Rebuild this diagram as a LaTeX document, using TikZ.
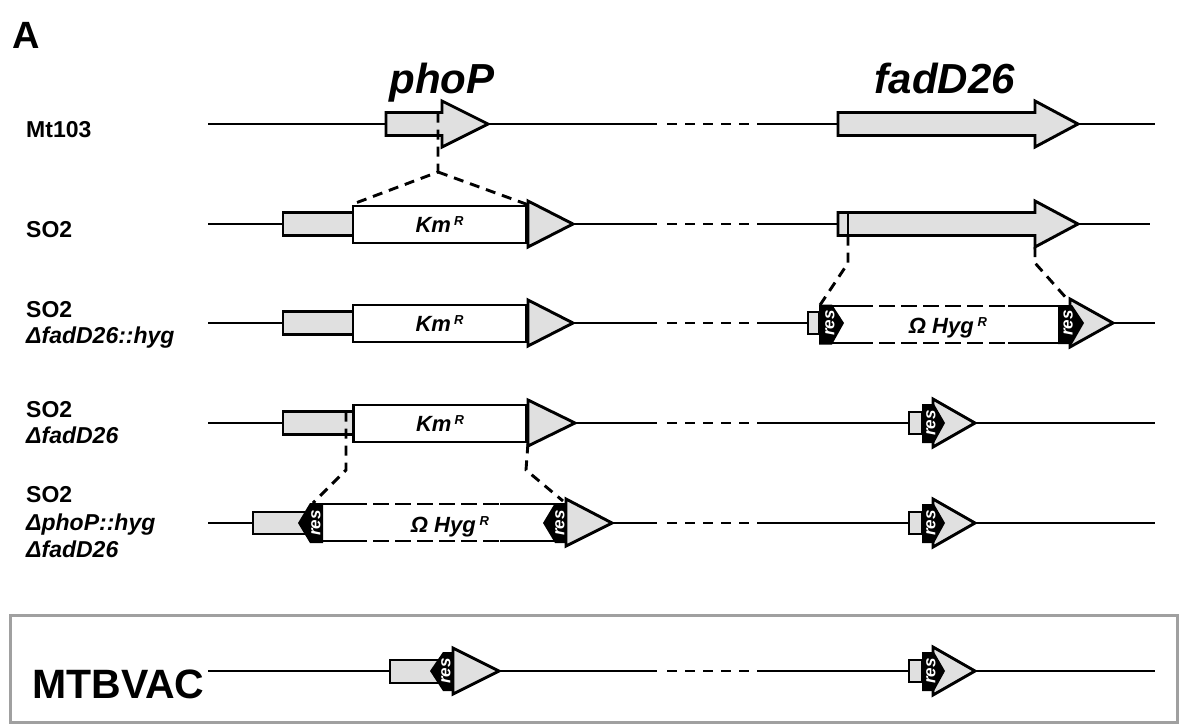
\documentclass[tikz,border=0pt]{standalone}
\usepackage{fontspec}
\setmainfont{Liberation Sans}
\usetikzlibrary{positioning}
\definecolor{genegrey}{RGB}{224,224,224}
\definecolor{framegrey}{RGB}{160,160,160}
\newcommand\kmr{Km\kern3pt\raisebox{7pt}{\fontsize{13}{13}\selectfont R}}
\newcommand\hygr{Ω Hyg\kern4pt\raisebox{7pt}{\fontsize{13}{13}\selectfont R}}

\begin{document}
\begin{tikzpicture}[x=1pt, y=-1pt,
  gline/.style={line width=2.9pt},
  gapline/.style={line width=2.9pt, dash pattern=on 10pt off 8pt},
  guide/.style={line width=2.9pt, dash pattern=on 10pt off 7pt},
  hygedge/.style={line width=2.9pt, dash pattern=on 16pt off 6pt},
  genebox/.style={draw, line width=2.9pt, fill=genegrey, line join=miter},
  cassette/.style={draw, line width=2.9pt, fill=white, inner sep=0pt, font=\fontsize{22}{26}\selectfont\bfseries\itshape},
  resmark/.style={fill=black},
  restext/.style={text=white, rotate=90, inner sep=0pt, font=\fontsize{17}{17}\selectfont\bfseries\itshape},
  marker/.style={anchor=base, inner sep=0pt, font=\fontsize{22}{26}\selectfont\bfseries\itshape},
  strain/.style={anchor=base west, inner sep=0pt, font=\fontsize{23}{26}\selectfont\bfseries},
  strainit/.style={anchor=base west, inner sep=0pt, font=\fontsize{23}{26}\selectfont\bfseries\itshape},
  genetitle/.style={anchor=base, inner sep=0pt, font=\fontsize{42}{48}\selectfont\bfseries\itshape}]

\useasboundingbox (0,0) rectangle (1187,726);

% titles
\node[anchor=base west, inner sep=0pt, font=\fontsize{38}{44}\selectfont\bfseries] (panel) at (12,48) {A};
\node[genetitle] (phoPtitle) at (442,93) {phoP};
\node[genetitle] (fadtitle) at (945,93) {fadD26};

% strain names
\node[strain] (mtLabel) at (26,137) {Mt103};
\node[strain] (soLabel) at (26,237) {SO2};
\node[strain] (soHygA) at (26,317) {SO2};
\node[strainit] (soHygB) at (26,343) {ΔfadD26::hyg};
\node[strain] (soDelA) at (26,417) {SO2};
\node[strainit] (soDelB) at (26,443) {ΔfadD26};
\node[strain] (dblA) at (26,502) {SO2};
\node[strainit] (dblB) at (26,530) {ΔphoP::hyg};
\node[strainit] (dblC) at (26,557) {ΔfadD26};
\node[anchor=base west, inner sep=0pt, font=\fontsize{41}{46}\selectfont\bfseries] (vacLabel) at (32,698) {MTBVAC};

% chromosome lines
\draw[gline] (208,124) -- (657,124);
\draw[gapline] (667,124) -- (760,124);
\draw[gline] (760,124) -- (1155,124);
\draw[gline] (208,224) -- (657,224);
\draw[gapline] (667,224) -- (760,224);
\draw[gline] (760,224) -- (1150,224);
\draw[gline] (208,323) -- (657,323);
\draw[gapline] (667,323) -- (760,323);
\draw[gline] (760,323) -- (1155,323);
\draw[gline] (208,423) -- (657,423);
\draw[gapline] (667,423) -- (760,423);
\draw[gline] (760,423) -- (1155,423);
\draw[gline] (208,523) -- (657,523);
\draw[gapline] (667,523) -- (760,523);
\draw[gline] (760,523) -- (1155,523);
\draw[gline] (208,671) -- (657,671);
\draw[gapline] (667,671) -- (760,671);
\draw[gline] (760,671) -- (1155,671);

% Mt103
\draw[genebox] (386,112.5) -- (442,112.5) -- (442,101) -- (488,124) -- (442,147) -- (442,135.5) -- (386,135.5) -- cycle;
\draw[genebox] (838,112.5) -- (1035,112.5) -- (1035,101) -- (1078,124) -- (1035,147) -- (1035,135.5) -- (838,135.5) -- cycle;

% SO2
\draw[genebox] (283,212.5) rectangle (353,235.5);
\node[cassette, minimum width=173pt, minimum height=37pt] (kmA) at (439.5,224.5) {\kmr};
\draw[genebox] (528,201) -- (573,224) -- (528,247) -- cycle;
\draw[genebox] (838,212.5) -- (1035,212.5) -- (1035,201) -- (1078,224) -- (1035,247) -- (1035,235.5) -- (838,235.5) -- cycle;
\draw[gline] (848,212.5) -- (848,235.5);
\draw[guide] (438,112.5) -- (438,172) -- (kmA.north west);
\draw[guide] (438,172) -- (kmA.north east);

% SO2 fadD26::hyg
\draw[genebox] (283,311.5) rectangle (353,334.5);
\node[cassette, minimum width=173pt, minimum height=37pt] (kmB) at (439.5,323.5) {\kmr};
\draw[genebox] (528,300) -- (573,323) -- (528,346) -- cycle;
\draw[genebox] (808,312) rectangle (819,334);
\fill[white] (819,306) rectangle (1070,343);
\draw[gline] (819,306) -- (873,306);
\draw[hygedge] (879,306) -- (1008,306);
\draw[gline] (1008,306) -- (1062,306);
\draw[gline] (819,343) -- (873,343);
\draw[hygedge] (879,343) -- (1008,343);
\draw[gline] (1008,343) -- (1062,343);
\draw[genebox] (1070,299) -- (1113,323) -- (1070,347) -- cycle;
\fill[resmark] (819,304.5) -- (832,304.5) -- (844,323) -- (832,344.5) -- (819,344.5) -- cycle;
\fill[resmark] (1058,305) -- (1072,305) -- (1084,323) -- (1072,344) -- (1058,344) -- cycle;
\node[restext] (resB1) at (830,323) {res};
\node[restext] (resB2) at (1068,323) {res};
\node[marker] (hygB) at (948,333) {\hygr};
\draw[guide] (848,235.5) -- (848,263) -- (820,305);
\draw[guide] (1035,247) -- (1035,263) -- (1068,300);

% SO2 fadD26
\draw[genebox] (283,411.5) rectangle (353,434.5);
\node[cassette, minimum width=173pt, minimum height=37pt] (kmC) at (440,423.5) {\kmr};
\draw[genebox] (528,400) -- (575,423) -- (528,446) -- cycle;
\draw[genebox] (909,412) rectangle (922,434);
\draw[genebox] (933,399) -- (975,423) -- (933,447) -- cycle;
\fill[resmark] (922,404) -- (934,404) -- (945,423) -- (934,443) -- (922,443) -- cycle;
\node[restext] (resC) at (931,423) {res};

% SO2 phoP::hyg fadD26
\draw[genebox] (253,512) rectangle (307,534);
\fill[white] (323,504) rectangle (566,541);
\draw[gline] (310,504) -- (367,504);
\draw[hygedge] (373,504) -- (500,504);
\draw[gline] (500,504) -- (556,504);
\draw[gline] (310,541) -- (367,541);
\draw[hygedge] (373,541) -- (500,541);
\draw[gline] (500,541) -- (556,541);
\fill[resmark] (323,503) -- (310,503) -- (298,523) -- (310,543) -- (323,543) -- cycle;
\fill[resmark] (567,503) -- (555,503) -- (543,523) -- (555,543) -- (567,543) -- cycle;
\draw[genebox] (566,499) -- (612,523) -- (566,546) -- cycle;
\node[restext] (resD1) at (316,523) {res};
\node[restext] (resD2) at (560,523) {res};
\node[marker] (hygD) at (450,532) {\hygr};
\draw[genebox] (909,512) rectangle (922,534);
\draw[genebox] (933,499) -- (975,523) -- (933,547) -- cycle;
\fill[resmark] (922,504) -- (934,504) -- (945,523) -- (934,543) -- (922,543) -- cycle;
\node[restext] (resD3) at (931,523) {res};
\draw[guide] (346,411.5) -- (346,470) -- (313,503);
\draw[guide] (kmC.south east) -- (526,470) -- (563,501);

% MTBVAC
\draw[framegrey, line width=3pt] (10,615) rectangle (1177,722);
\draw[genebox] (390,660) rectangle (440,683);
\fill[resmark] (455,652) -- (443,652) -- (430,671) -- (443,691) -- (455,691) -- cycle;
\node[restext] (resE1) at (446,671) {res};
\draw[genebox] (453,648) -- (499,671) -- (453,694) -- cycle;
\draw[genebox] (909,660) rectangle (922,682);
\draw[genebox] (933,647) -- (975,671) -- (933,695) -- cycle;
\fill[resmark] (922,652) -- (934,652) -- (945,671) -- (934,691) -- (922,691) -- cycle;
\node[restext] (resE2) at (931,671) {res};

\end{tikzpicture}
\end{document}
